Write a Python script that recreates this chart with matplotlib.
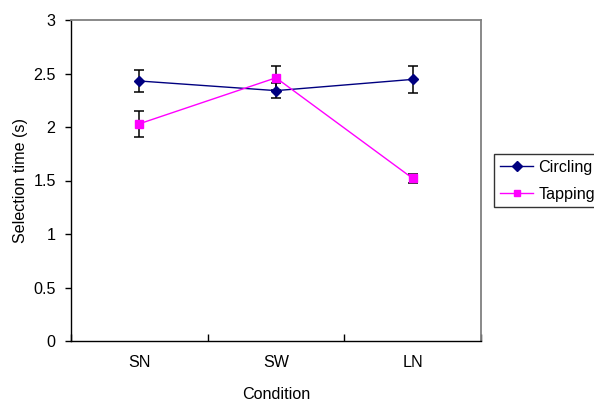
import matplotlib
matplotlib.use("Agg")
import matplotlib.pyplot as plt
import numpy as np

plt.rcParams['font.family'] = ['Liberation Sans', 'DejaVu Sans']
plt.rcParams['font.size'] = 11.6

categories = ["SN", "SW", "LN"]
circling = [2.43, 2.34, 2.445]
circling_err = [0.10, 0.07, 0.125]
tapping = [2.03, 2.46, 1.52]
tapping_err = [0.12, 0.11, 0.04]
yticks = [0, 0.5, 1, 1.5, 2, 2.5, 3]
yticklabels = ["0", "0.5", "1", "1.5", "2", "2.5", "3"]

fig = plt.figure(figsize=(5.94, 4.01), dpi=100)
ax = fig.add_axes([71/594, 1-341/401, (481-71)/594, (341-20)/401])

x = np.arange(len(categories)) + 0.5

ax.errorbar(x, circling, yerr=circling_err, fmt='none', ecolor='black',
            elinewidth=1.1, capsize=3.3, capthick=1.1, zorder=2)
ax.errorbar(x, tapping, yerr=tapping_err, fmt='none', ecolor='black',
            elinewidth=1.1, capsize=3.3, capthick=1.1, zorder=2)
ax.plot(x, circling, color='#000080', marker='D', markersize=5.5,
        linewidth=1.0, label='Circling', zorder=3)
ax.plot(x, tapping, color='#FF00FF', marker='s', markersize=5.5,
        linewidth=1.0, label='Tapping', zorder=4)

ax.set_xlim(0, 3)
ax.set_ylim(0, 3)
ax.set_xticks([0, 1, 2, 3])
ax.set_xticklabels([])
ax.set_xticks(x, minor=True)
ax.set_xticklabels(categories, minor=True)
ax.tick_params(axis='x', which='major', direction='in', length=5, width=1, color='black')
ax.tick_params(axis='x', which='minor', length=0, pad=10)
ax.set_yticks(yticks)
ax.set_yticklabels(yticklabels)
ax.tick_params(axis='y', direction='out', length=4, width=1, pad=7)

for s in ['left', 'bottom']:
    ax.spines[s].set_color('black')
    ax.spines[s].set_linewidth(1.0)
for s in ['top', 'right']:
    ax.spines[s].set_color('#808080')
    ax.spines[s].set_linewidth(1.3)

ax.set_xlabel('Condition', labelpad=12)
ax.set_ylabel('Selection time (s)', labelpad=4)

leg = fig.legend(loc='upper left', bbox_to_anchor=(494/594, 1-154/401),
                 frameon=True, fancybox=False, edgecolor='black',
                 handlelength=2.1, handletextpad=0.3, borderpad=0.35,
                 labelspacing=0.75, borderaxespad=0, markerscale=0.85)
leg.get_frame().set_linewidth(1.0)

fig.savefig('out.png', dpi=100)
